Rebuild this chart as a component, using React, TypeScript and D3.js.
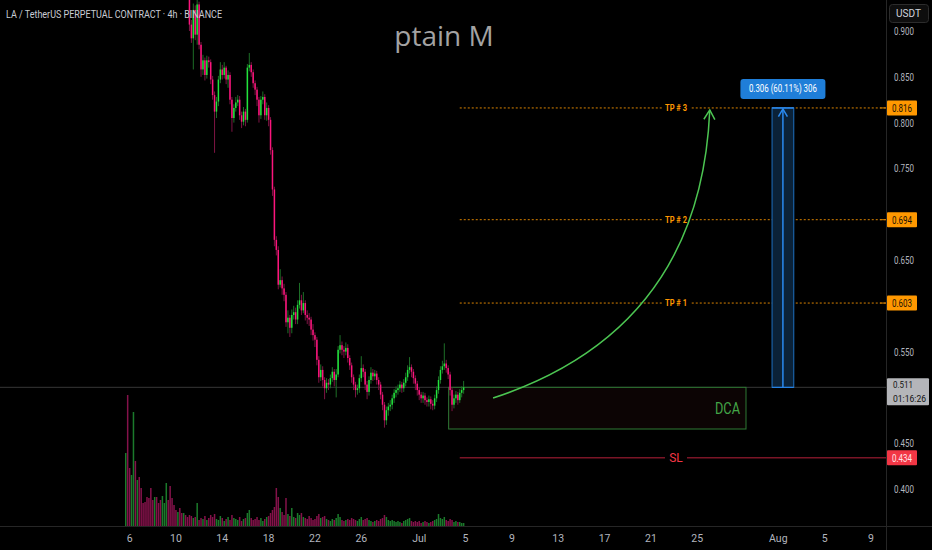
import React from 'react';
import * as d3 from 'd3';

const W = 932;
const H = 550;
const START = Date.UTC(2025, 5, 5, 16);
const STEP = 4 * 3600 * 1000;

const open = [
  1.20,1.35,1.22,1.15,1.20,1.28,1.18,1.22,1.16,1.12,
  1.10,1.08,1.05,1.03,1.00,0.98,1.00,0.99,0.985,0.975,
  0.985,0.99,1.01,1.00,0.985,0.975,0.97,0.965,0.97,0.965,
  0.96,0.965,0.955,0.945,0.907,0.892,0.923,0.896,0.929,0.885,
  0.858,0.868,0.852,0.868,0.866,0.847,0.830,0.812,0.823,0.847,
  0.858,0.852,0.860,0.847,0.852,0.825,0.805,0.816,0.822,0.825,
  0.808,0.801,0.812,0.803,0.860,0.863,0.855,0.843,0.836,0.825,
  0.808,0.825,0.828,0.808,0.816,0.803,0.770,0.727,0.672,0.661,
  0.623,0.628,0.619,0.612,0.582,0.587,0.576,0.590,0.593,0.585,
  0.601,0.606,0.595,0.603,0.590,0.587,0.585,0.574,0.568,0.563,
  0.541,0.522,0.530,0.519,0.510,0.516,0.514,0.521,0.528,0.519,
  0.525,0.552,0.557,0.552,0.550,0.554,0.543,0.535,0.522,0.514,
  0.508,0.510,0.521,0.532,0.528,0.514,0.506,0.519,0.527,0.523,
  0.526,0.519,0.514,0.503,0.492,0.475,0.486,0.490,0.492,0.499,
  0.505,0.508,0.510,0.514,0.510,0.516,0.522,0.530,0.533,0.528,
  0.521,0.515,0.508,0.503,0.499,0.502,0.497,0.495,0.498,0.493,
  0.491,0.499,0.508,0.519,0.530,0.534,0.537,0.532,0.525,0.508,
  0.492,0.499,0.503,0.497,0.505,0.508,
];

const high = [
  1.42,1.38,1.25,1.22,1.31,1.30,1.24,1.24,1.18,1.14,
  1.12,1.10,1.07,1.05,1.02,1.02,1.01,1.00,0.99,0.99,
  1.00,1.02,1.02,1.00,0.99,0.98,0.975,0.98,0.975,0.97,
  0.97,0.97,0.96,0.950,0.912,0.930,0.928,0.940,0.932,0.888,
  0.874,0.871,0.873,0.872,0.869,0.851,0.834,0.828,0.851,0.866,
  0.863,0.866,0.862,0.857,0.855,0.828,0.820,0.828,0.830,0.829,
  0.812,0.817,0.815,0.864,0.876,0.866,0.858,0.846,0.839,0.828,
  0.829,0.834,0.831,0.822,0.819,0.806,0.773,0.730,0.676,0.665,
  0.640,0.632,0.624,0.615,0.595,0.590,0.596,0.600,0.598,0.606,
  0.625,0.612,0.615,0.606,0.595,0.592,0.588,0.580,0.571,0.566,
  0.545,0.536,0.534,0.522,0.521,0.520,0.525,0.533,0.531,0.531,
  0.556,0.568,0.561,0.556,0.560,0.558,0.546,0.538,0.525,0.517,
  0.514,0.525,0.545,0.536,0.531,0.518,0.523,0.533,0.531,0.530,
  0.529,0.522,0.517,0.506,0.495,0.490,0.494,0.497,0.503,0.509,
  0.512,0.514,0.518,0.517,0.520,0.527,0.535,0.544,0.536,0.531,
  0.524,0.518,0.511,0.506,0.506,0.505,0.500,0.502,0.501,0.497,
  0.503,0.512,0.523,0.534,0.540,0.559,0.541,0.535,0.528,0.511,
  0.503,0.507,0.506,0.509,0.512,0.518,
];

const low = [
  1.15,1.20,1.12,1.13,1.18,1.16,1.16,1.14,1.10,1.08,
  1.06,1.03,1.01,0.99,0.97,0.97,0.98,0.975,0.965,0.97,
  0.98,0.985,0.99,0.975,0.968,0.962,0.958,0.96,0.958,0.952,
  0.955,0.948,0.94,0.900,0.887,0.858,0.890,0.885,0.880,0.850,
  0.852,0.846,0.848,0.860,0.842,0.825,0.767,0.805,0.818,0.843,
  0.847,0.848,0.842,0.838,0.820,0.790,0.800,0.812,0.818,0.803,
  0.794,0.797,0.796,0.800,0.856,0.850,0.838,0.830,0.818,0.800,
  0.804,0.820,0.803,0.802,0.796,0.765,0.720,0.665,0.655,0.618,
  0.620,0.612,0.605,0.577,0.570,0.566,0.570,0.585,0.580,0.580,
  0.597,0.590,0.592,0.584,0.580,0.578,0.568,0.562,0.555,0.535,
  0.516,0.518,0.512,0.498,0.505,0.508,0.510,0.517,0.512,0.500,
  0.522,0.548,0.546,0.543,0.546,0.538,0.530,0.516,0.508,0.500,
  0.503,0.505,0.517,0.522,0.508,0.498,0.502,0.515,0.518,0.519,
  0.514,0.508,0.498,0.486,0.467,0.470,0.480,0.485,0.487,0.494,
  0.500,0.503,0.506,0.505,0.506,0.512,0.518,0.526,0.522,0.515,
  0.508,0.502,0.497,0.494,0.494,0.492,0.490,0.490,0.487,0.486,
  0.487,0.495,0.504,0.515,0.526,0.530,0.527,0.520,0.502,0.485,
  0.488,0.494,0.492,0.494,0.500,0.504,
];

const close = [
  1.35,1.22,1.15,1.20,1.28,1.18,1.22,1.16,1.12,1.10,
  1.08,1.05,1.03,1.00,0.98,1.00,0.99,0.985,0.975,0.985,
  0.99,1.01,1.00,0.985,0.975,0.97,0.965,0.97,0.965,0.96,
  0.965,0.955,0.945,0.907,0.892,0.923,0.896,0.929,0.885,0.858,
  0.868,0.852,0.868,0.866,0.847,0.830,0.812,0.823,0.847,0.858,
  0.852,0.860,0.847,0.852,0.825,0.805,0.816,0.822,0.825,0.808,
  0.801,0.812,0.803,0.860,0.863,0.855,0.843,0.836,0.825,0.808,
  0.825,0.828,0.808,0.816,0.803,0.770,0.727,0.672,0.661,0.623,
  0.628,0.619,0.612,0.582,0.587,0.576,0.590,0.593,0.585,0.601,
  0.606,0.595,0.603,0.590,0.587,0.585,0.574,0.568,0.563,0.541,
  0.522,0.530,0.519,0.510,0.516,0.514,0.521,0.528,0.519,0.525,
  0.552,0.557,0.552,0.550,0.554,0.543,0.535,0.522,0.514,0.508,
  0.510,0.521,0.532,0.528,0.514,0.506,0.519,0.527,0.523,0.526,
  0.519,0.514,0.503,0.492,0.475,0.486,0.490,0.492,0.499,0.505,
  0.508,0.510,0.514,0.510,0.516,0.522,0.530,0.533,0.528,0.521,
  0.515,0.508,0.503,0.499,0.502,0.497,0.495,0.498,0.493,0.491,
  0.499,0.508,0.519,0.530,0.534,0.537,0.532,0.525,0.508,0.492,
  0.499,0.503,0.497,0.505,0.508,0.511,
];

const volume = [
  14.6,26.2,11.6,10.2,22.8,13.0,9.2,9.8,7.6,4.6,
  4.8,5.8,5.6,7.6,5.2,5.8,5.8,4.6,5.2,6.0,
  4.6,8.6,5.2,8.0,5.6,4.2,3.2,2.8,3.6,2.6,
  2.6,2.2,1.8,2.2,2.0,1.6,1.8,4.6,1.2,1.6,
  1.4,2.0,1.2,1.6,2.2,1.8,2.4,1.4,1.2,2.0,
  1.6,1.0,1.4,1.8,1.2,2.2,1.6,1.4,1.2,1.8,
  1.0,1.4,1.6,2.6,3.2,1.6,1.2,1.4,1.8,1.2,
  1.6,1.0,1.4,1.8,2.0,2.6,3.2,3.8,7.6,5.8,
  3.6,2.8,2.2,5.6,2.4,2.0,3.6,1.8,1.6,2.6,
  2.2,2.6,1.8,1.6,1.4,2.0,1.6,1.2,1.4,2.0,
  2.4,1.6,1.8,2.0,1.4,1.2,1.0,1.4,1.2,1.6,
  2.4,1.8,1.2,1.0,1.2,1.4,1.2,1.6,1.4,1.2,
  1.0,1.4,1.8,1.2,1.4,1.6,1.2,1.0,0.8,1.0,
  1.2,1.0,1.4,1.6,2.2,1.8,1.2,1.0,1.2,1.0,
  0.8,1.0,0.8,0.6,1.0,1.2,1.4,1.6,1.0,0.8,
  1.0,0.8,1.0,0.6,0.8,1.0,0.8,0.6,0.8,1.0,
  1.2,1.4,2.4,1.6,1.4,1.8,1.2,1.0,1.4,1.2,
  0.8,1.0,0.8,0.8,0.6,0.6,
];

const priceTicks = [0.4, 0.45, 0.5, 0.55, 0.6, 0.65, 0.7, 0.75, 0.8, 0.85, 0.9];
const timeTickDates = [
  Date.UTC(2025, 5, 6), Date.UTC(2025, 5, 10), Date.UTC(2025, 5, 14), Date.UTC(2025, 5, 18),
  Date.UTC(2025, 5, 22), Date.UTC(2025, 5, 26), Date.UTC(2025, 6, 1), Date.UTC(2025, 6, 5),
  Date.UTC(2025, 6, 9), Date.UTC(2025, 6, 13), Date.UTC(2025, 6, 17), Date.UTC(2025, 6, 21),
  Date.UTC(2025, 6, 25), Date.UTC(2025, 7, 1), Date.UTC(2025, 7, 5), Date.UTC(2025, 7, 9),
];
const timeTickLabels = ['6', '10', '14', '18', '22', '26', 'Jul', '5', '9', '13', '17', '21', '25', 'Aug', '5', '9'];

const tpPrices = [0.816, 0.694, 0.603];
const tpLabels = ['TP # 3', 'TP # 2', 'TP # 1'];
const slPrice = 0.434;
const lastPrice = 0.511;
const countdown = '01:16:26';
const levelStart = Date.UTC(2025, 6, 4, 12);
const levelLabelTime = Date.UTC(2025, 6, 23, 4);
const dcaTop = 0.511;
const dcaBottom = 0.4655;
const dcaStart = Date.UTC(2025, 6, 3, 13);
const dcaEnd = Date.UTC(2025, 6, 29, 5);
const curveStart = { t: Date.UTC(2025, 6, 7, 9), p: 0.4993 };
const curveCtrl = { t: Date.UTC(2025, 6, 25, 6), p: 0.5736 };
const curveEnd = { t: Date.UTC(2025, 6, 26, 2), p: 0.8138 };
const measureStart = Date.UTC(2025, 6, 31, 11);
const measureEnd = Date.UTC(2025, 7, 2, 8);
const measureFrom = 0.511;
const measureTo = 0.816;
const measureText = '0.306 (60.11%) 306';

const FONT = "Roboto, 'Open Sans', sans-serif";
const GREEN = '#22e23c';
const PINK = '#fb157c';
const GREEN_W = '#1d6e27';
const PINK_W = '#7e1444';
const GREEN_V = '#1b7a2b';
const PINK_V = '#84124a';

export default function App() {
  const CW = 886;
  const CH = 526;
  const x = d3.scaleUtc()
    .domain([new Date(Date.UTC(2025, 5, 6)), new Date(Date.UTC(2025, 7, 9))])
    .range([129.6, 871]);
  const y = d3.scaleLinear().domain([0.4, 0.9]).range([489, 31]);
  const yv = d3.scaleLinear().domain([0, 26.2]).range([CH, 395]);
  const fmt = d3.format('.3f');

  const candles = close.map((c, i) => ({
    t: new Date(START + i * STEP), o: open[i], h: high[i], l: low[i], c, v: volume[i],
  }));
  const bw = 1.5;

  const boxedPrices = [...tpPrices, slPrice];
  const visibleTicks = priceTicks.filter(p =>
    boxedPrices.every(b => Math.abs(y(p) - y(b)) > 11) &&
    !(y(p) > y(lastPrice) - 20 && y(p) < y(lastPrice) + 26));

  const arrowHead = (x1: number, y1: number, x0: number, y0: number, len: number) => {
    const a = Math.atan2(y1 - y0, x1 - x0);
    const s = Math.PI / 6;
    return `M${x1 - len * Math.cos(a - s)},${y1 - len * Math.sin(a - s)}L${x1},${y1}L${x1 - len * Math.cos(a + s)},${y1 - len * Math.sin(a + s)}`;
  };

  const cs = { x: x(new Date(curveStart.t)), y: y(curveStart.p) };
  const cc = { x: x(new Date(curveCtrl.t)), y: y(curveCtrl.p) };
  const ce = { x: x(new Date(curveEnd.t)), y: y(curveEnd.p) };
  const curvePath = `M${cs.x},${cs.y}Q${cc.x},${cc.y} ${ce.x},${ce.y}`;

  const mx0 = x(new Date(measureStart));
  const mx1 = x(new Date(measureEnd));
  const mxc = (mx0 + mx1) / 2;
  const my0 = y(measureFrom);
  const my1 = y(measureTo);

  const lx = x(new Date(levelStart));
  const labelX = x(new Date(levelLabelTime));

  return (
    <svg width={W} height={H} style={{ position: 'absolute', left: 0, top: 0, display: 'block', background: '#000' }}
      fontFamily={FONT}>
      <defs>
        <clipPath id="chartClip"><rect x={0} y={0} width={CW} height={CH} /></clipPath>
      </defs>
      <rect x={0} y={0} width={W} height={H} fill="#000" />

      <g clipPath="url(#chartClip)">
        <text x={444} y={46} textAnchor="middle" fontSize={28} fill="#a3a3a3" fontFamily="'Open Sans', sans-serif">ptain M</text>

        {candles.map((d, i) => (
          <rect key={'v' + i} x={x(d.t) - 0.75} y={yv(d.v)} width={1.5} height={CH - yv(d.v)}
            fill={d.c >= d.o ? GREEN_V : PINK_V} />
        ))}

        <line x1={0} x2={CW} y1={y(lastPrice)} y2={y(lastPrice)} stroke="#363636" strokeWidth={1} />

        <rect x={x(new Date(dcaStart))} y={y(dcaTop)} width={x(new Date(dcaEnd)) - x(new Date(dcaStart))}
          height={y(dcaBottom) - y(dcaTop)} fill="#0c0404" stroke="#2f7a35" strokeWidth={1} />

        {candles.map((d, i) => (
          <line key={'w' + i} x1={x(d.t)} x2={x(d.t)} y1={y(d.h)} y2={y(d.l)}
            stroke={d.c >= d.o ? GREEN_W : PINK_W} strokeWidth={1} />
        ))}
        {candles.map((d, i) => {
          const top = y(Math.max(d.o, d.c));
          const bot = y(Math.min(d.o, d.c));
          return (
            <rect key={'b' + i} x={x(d.t) - bw / 2} y={top} width={bw} height={Math.max(1, bot - top)}
              fill={d.c >= d.o ? GREEN : PINK} />
          );
        })}

        <text x={x(new Date(dcaEnd)) - 31} y={(y(dcaTop) + y(dcaBottom)) / 2 + 6} fontSize={16}
          textLength={25} lengthAdjust="spacingAndGlyphs" fill="#43a547">DCA</text>

        {tpPrices.map((p, i) => (
          <g key={'tp' + i}>
            <line x1={lx} x2={CW} y1={y(p)} y2={y(p)} stroke="#d98200" strokeWidth={1} strokeDasharray="2 2" />
            <rect x={labelX - 14} y={y(p) - 6} width={28} height={12} fill="#000" />
            <text x={labelX - 11} y={y(p) + 3} fontSize={9} fontWeight="bold" fill="#ff9800"
              textLength={22} lengthAdjust="spacingAndGlyphs">{tpLabels[i]}</text>
          </g>
        ))}

        <line x1={lx} x2={CW} y1={y(slPrice)} y2={y(slPrice)} stroke="#7a1526" strokeWidth={1.5} />
        <rect x={labelX - 11} y={y(slPrice) - 8} width={22} height={16} fill="#000" />
        <text x={labelX} y={y(slPrice) + 4.5} textAnchor="middle" fontSize={12} fill="#f23645">SL</text>

        <path d={curvePath} fill="none" stroke="#4cc552" strokeWidth={1.5} />
        <path d={arrowHead(ce.x, ce.y, cc.x, cc.y, 11)} fill="none" stroke="#4cc552" strokeWidth={1.5} />

        <rect x={mx0} y={my1} width={mx1 - mx0} height={my0 - my1} fill="#0b2238" stroke="#1e6fc0" strokeWidth={1} />
        <line x1={mx0} x2={mx1} y1={my1} y2={my1} stroke="#2a8af0" strokeWidth={1.5} />
        <line x1={mx0} x2={mx1} y1={my0} y2={my0} stroke="#2a8af0" strokeWidth={1} />
        <line x1={mxc} x2={mxc} y1={my0} y2={my1 + 1} stroke="#2a8af0" strokeWidth={1.5} />
        <path d={arrowHead(mxc, my1 + 1, mxc, my0, 9)} fill="none" stroke="#2a8af0" strokeWidth={1.5} />
        <rect x={mxc - 42.5} y={my1 - 29} width={85} height={20} rx={3} fill="#1f7ed8" />
        <text x={mxc - 34} y={my1 - 15.5} fontSize={10} fill="#ffffff"
          textLength={68} lengthAdjust="spacingAndGlyphs">{measureText}</text>
      </g>

      <text x={6} y={18} fontSize={11} fill="#c9ccd4" textLength={216} lengthAdjust="spacingAndGlyphs">
        LA / TetherUS PERPETUAL CONTRACT · 4h · BINANCE
      </text>

      <line x1={CW + 0.5} x2={CW + 0.5} y1={0} y2={H} stroke="#262626" strokeWidth={1} />
      <line x1={0} x2={W} y1={CH + 0.5} y2={CH + 0.5} stroke="#262626" strokeWidth={1} />

      {visibleTicks.map((p, i) => (
        <text key={'pt' + i} x={894} y={y(p) + 4} fontSize={10.5} fill="#b2b5be"
          textLength={20} lengthAdjust="spacingAndGlyphs">{fmt(p)}</text>
      ))}
      {tpPrices.map((p, i) => (
        <g key={'tpl' + i}>
          <line x1={880} x2={CW} y1={y(p)} y2={y(p)} stroke="#d98200" strokeWidth={1} />
          <rect x={887} y={y(p) - 7.5} width={30} height={15} fill="#ff9800" rx={1} />
          <text x={892} y={y(p) + 4} fontSize={10.5} fill="#1a1206"
            textLength={20} lengthAdjust="spacingAndGlyphs">{fmt(p)}</text>
        </g>
      ))}
      <rect x={887} y={y(slPrice) - 7.5} width={30} height={15} fill="#f23645" rx={1} />
      <text x={892} y={y(slPrice) + 4} fontSize={10.5} fill="#ffe3e6"
        textLength={20} lengthAdjust="spacingAndGlyphs">{fmt(slPrice)}</text>
      <rect x={887} y={y(lastPrice) - 9} width={42} height={27} fill="#b4b5b9" rx={1} />
      <text x={893} y={y(lastPrice) + 0.5} fontSize={9.5} fill="#111"
        textLength={20} lengthAdjust="spacingAndGlyphs">{fmt(lastPrice)}</text>
      <text x={893} y={y(lastPrice) + 14.5} fontSize={9.5} fill="#111"
        textLength={33} lengthAdjust="spacingAndGlyphs">{countdown}</text>

      <rect x={889.5} y={4.5} width={39} height={18} rx={3} fill="#0e0e0e" stroke="#2c2c2c" />
      <text x={896} y={17} fontSize={10} fill="#d1d4dc" textLength={25} lengthAdjust="spacingAndGlyphs">USDT</text>

      {timeTickDates.map((t, i) => (
        <text key={'tt' + i} x={x(new Date(t))} y={542} textAnchor="middle" fontSize={10.5} fill="#b2b5be">
          {timeTickLabels[i]}
        </text>
      ))}
    </svg>
  );
}
